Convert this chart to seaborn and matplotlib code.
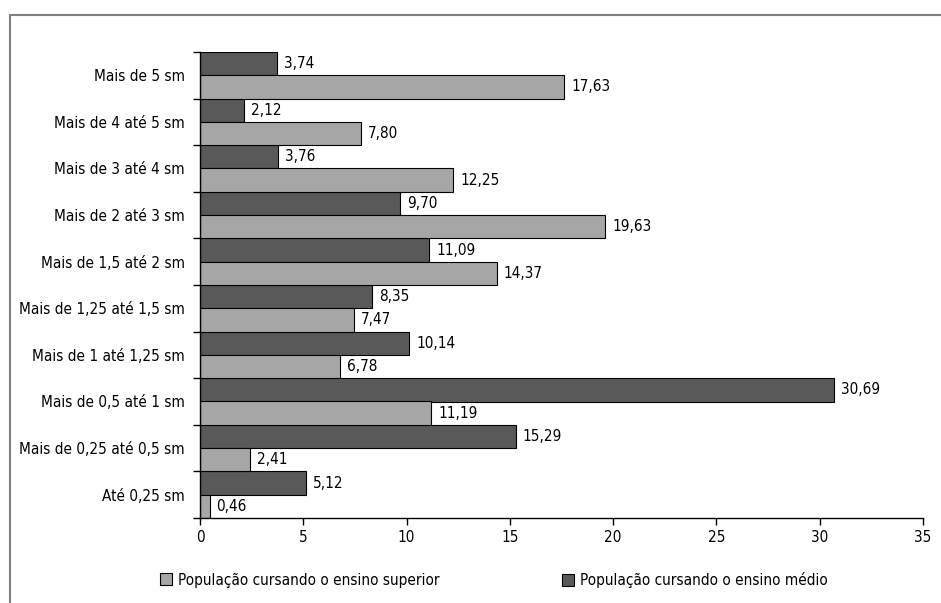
import matplotlib
matplotlib.use("Agg")
import matplotlib.pyplot as plt
import seaborn as sns
import pandas as pd
from matplotlib.patches import Patch
from matplotlib.lines import Line2D
from matplotlib.ticker import FixedLocator

categories = ["Mais de 5 sm", "Mais de 4 até 5 sm", "Mais de 3 até 4 sm",
              "Mais de 2 até 3 sm", "Mais de 1,5 até 2 sm", "Mais de 1,25 até 1,5 sm",
              "Mais de 1 até 1,25 sm", "Mais de 0,5 até 1 sm", "Mais de 0,25 até 0,5 sm",
              "Até 0,25 sm"]
medio = [3.74, 2.12, 3.76, 9.70, 11.09, 8.35, 10.14, 30.69, 15.29, 5.12]
superior = [17.63, 7.80, 12.25, 19.63, 14.37, 7.47, 6.78, 11.19, 2.41, 0.46]
serie_medio = "População cursando o ensino médio"
serie_superior = "População cursando o ensino superior"
xticks = [0, 5, 10, 15, 20, 25, 30, 35]

sns.set_style("white")
plt.rcParams["font.family"] = ["DejaVu Sans"]
plt.rcParams["font.stretch"] = "condensed"
plt.rcParams["text.color"] = "black"
plt.rcParams["xtick.color"] = "black"
plt.rcParams["ytick.color"] = "black"

df = pd.DataFrame({
    "cat": categories * 2,
    "val": medio + superior,
    "serie": [serie_medio] * len(categories) + [serie_superior] * len(categories),
})

dark = "#595959"
light = "#a6a6a6"
fs = 11

fig = plt.figure(figsize=(9.41, 6.03), dpi=100)
ax = fig.add_axes([200/941, 1-518/603, (923-200)/941, (518-52)/603])

sns.barplot(data=df, y="cat", x="val", hue="serie", order=categories,
            hue_order=[serie_medio, serie_superior],
            palette=[dark, light], orient="h", width=1.0, dodge=True,
            edgecolor="black", linewidth=0.8, ax=ax, legend=False, saturation=1)

for cont in ax.containers:
    ax.bar_label(cont, labels=[f"{v:.2f}".replace(".", ",") for v in cont.datavalues],
                 padding=5, fontsize=fs, color="black")

ax.set_xlim(0, 35)
ax.set_ylim(len(categories) - 0.5, -0.5)
ax.set_xticks(xticks)
ax.set_xticklabels([str(t) for t in xticks])
ax.set_xlabel("")
ax.set_ylabel("")
ax.yaxis.set_minor_locator(FixedLocator([i - 0.5 for i in range(len(categories) + 1)]))
ax.tick_params(axis="y", which="major", length=0, pad=11, labelsize=fs, labelcolor="black")
ax.tick_params(axis="y", which="minor", length=5, width=1, color="black", direction="out", left=True)
ax.tick_params(axis="x", which="major", length=5, width=1, color="black", direction="out",
               bottom=True, labelsize=fs, pad=4, labelcolor="black")
for s in ["top", "right"]:
    ax.spines[s].set_visible(False)
for s in ["left", "bottom"]:
    ax.spines[s].set_color("black")
    ax.spines[s].set_linewidth(1)

h1 = [Patch(facecolor=light, edgecolor="black", linewidth=0.8)]
h2 = [Patch(facecolor=dark, edgecolor="black", linewidth=0.8)]
leg1 = fig.legend(h1, [serie_superior], loc="center left", bbox_to_anchor=(160/941, 1-580/603),
                  frameon=False, fontsize=fs, handlelength=0.8, handleheight=0.8,
                  handletextpad=0.4, borderpad=0, borderaxespad=0)
leg2 = fig.legend(h2, [serie_medio], loc="center left", bbox_to_anchor=(562/941, 1-580/603),
                  frameon=False, fontsize=fs, handlelength=0.8, handleheight=0.8,
                  handletextpad=0.4, borderpad=0, borderaxespad=0)

fig.add_artist(Line2D([10/941, 1], [1-15/603, 1-15/603], transform=fig.transFigure,
                      color="#808080", linewidth=1.5))
fig.add_artist(Line2D([10/941, 10/941], [0, 1-15/603], transform=fig.transFigure,
                      color="#808080", linewidth=1.5))

fig.savefig("out.png", dpi=100)
